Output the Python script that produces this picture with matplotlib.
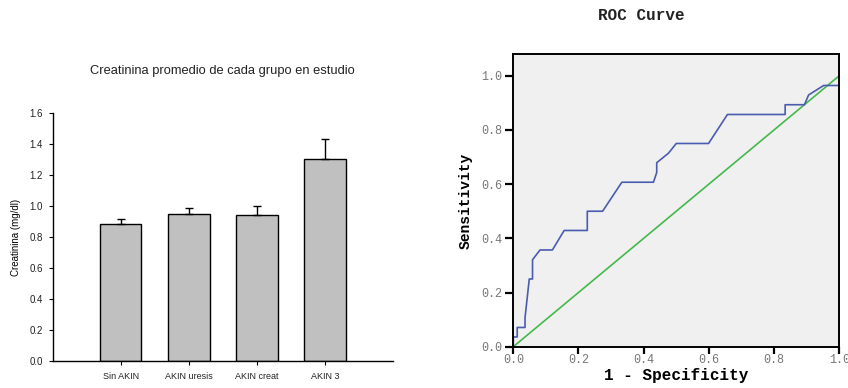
import numpy as np
import matplotlib.pyplot as plt

# mean creatinine per group (mg/dl) and upper error (SEM)
groups = ["Sin AKIN", "AKIN uresis", "AKIN creat", "AKIN 3"]
creat_mean = [0.887, 0.948, 0.941, 1.307]
creat_err = [0.027, 0.040, 0.062, 0.130]

# ROC curve vertices (1 - specificity, sensitivity)
roc_fpr = [0.0, 0.0, 0.012, 0.012, 0.036, 0.036, 0.049, 0.059, 0.059, 0.082,
           0.120, 0.156, 0.227, 0.227, 0.274, 0.333, 0.430, 0.440, 0.440,
           0.476, 0.500, 0.599, 0.657, 0.834, 0.834, 0.893, 0.906, 0.952,
           1.0, 1.0]
roc_tpr = [0.0, 0.036, 0.036, 0.071, 0.071, 0.107, 0.250, 0.250, 0.321, 0.357,
           0.357, 0.429, 0.429, 0.500, 0.500, 0.607, 0.607, 0.643, 0.679,
           0.714, 0.750, 0.750, 0.857, 0.857, 0.893, 0.893, 0.929, 0.964,
           0.964, 1.0]
ref_line = [0.0, 1.0]

fig = plt.figure(figsize=(8.48, 3.88), dpi=100)

# --- bar chart ---
ax1 = fig.add_axes([0.0621, 0.0696, 0.4013, 0.6384])
pos = np.arange(1, len(groups) + 1)
ax1.bar(pos, creat_mean, width=0.61, color="#c0c0c0", edgecolor="black", linewidth=1.0, zorder=2)
ax1.errorbar(pos, creat_mean, yerr=[np.zeros(len(creat_err)), creat_err], fmt="none",
             ecolor="black", elinewidth=1.0, capsize=2.8, capthick=1.0, zorder=3)
ax1.set_xlim(0, 5)
ax1.set_ylim(0, 1.6)
ax1.set_xticks(pos)
ax1.set_xticklabels(groups, fontsize=6.5, family="Liberation Sans", color="#222222")
ax1.set_yticks(np.arange(0, 1.61, 0.2))
ax1.set_yticklabels([f"{v:.1f}" for v in np.arange(0, 1.61, 0.2)], fontsize=7,
                    family="Liberation Sans", color="#222222")
ax1.tick_params(direction="out", length=3, width=0.8, pad=4)
ax1.tick_params(axis="x", pad=5)
for s in ["top", "right"]:
    ax1.spines[s].set_visible(False)
for s in ["left", "bottom"]:
    ax1.spines[s].set_linewidth(1.0)
ax1.set_ylabel("Creatinina (mg/dl)", fontsize=7, family="Liberation Sans", labelpad=6)
fig.text(0.262, 0.816, "Creatinina promedio de cada grupo en estudio", ha="center", va="center",
         fontsize=9.3, family="Liberation Sans", color="#222222")

# --- ROC curve ---
ax2 = fig.add_axes([0.6053, 0.1064, 0.3844, 0.7536])
ax2.set_facecolor("#f0f0f0")
ax2.plot(ref_line, ref_line, color="#45b84c", linewidth=1.2)
ax2.plot(roc_fpr, roc_tpr, color="#4a5cb0", linewidth=1.2)
ax2.set_xlim(0, 1.0)
ax2.set_ylim(0, 1.079)
ticks = np.arange(0, 1.01, 0.2)
ax2.set_xticks(ticks)
ax2.set_yticks(ticks)
ax2.set_xticklabels([f"{v:.1f}" for v in ticks], fontsize=8.5, family="Liberation Mono", color="#777777")
ax2.set_yticklabels([f"{v:.1f}" for v in ticks], fontsize=8.5, family="Liberation Mono", color="#777777")
ax2.tick_params(direction="out", length=6, width=1.6, pad=2)
ax2.tick_params(axis="x", length=5, pad=0)
for s in ax2.spines.values():
    s.set_linewidth(1.4)
ax2.set_xlabel("1 - Specificity", fontsize=11.5, family="Liberation Mono", fontweight="bold", labelpad=2)
ax2.set_ylabel("Sensitivity", fontsize=10.5, family="Liberation Mono", fontweight="bold", labelpad=6)
fig.text(0.756, 0.96, "ROC Curve", ha="center", va="center",
         fontsize=11.5, family="Liberation Mono", fontweight="bold", color="#222222")

fig.savefig("out.png", dpi=100)
